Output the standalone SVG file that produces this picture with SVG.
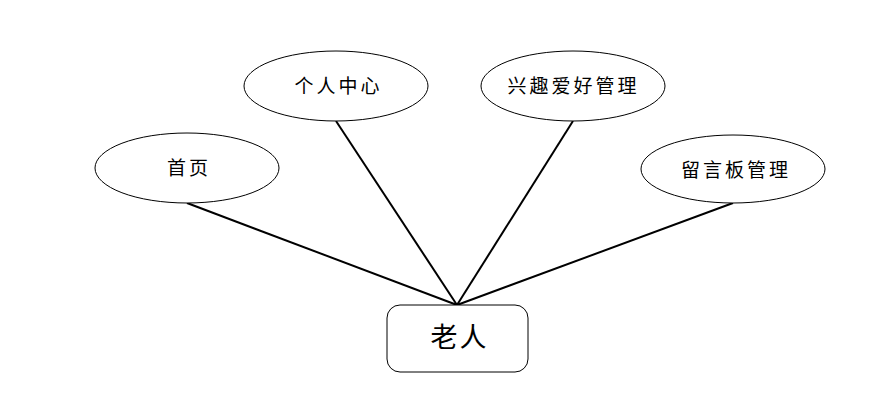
<svg xmlns="http://www.w3.org/2000/svg" width="889" height="408" viewBox="0 0 889 408">
<style>
.n{fill:#fff;stroke:#000;stroke-width:1}
.t{font-family:"Liberation Serif","Noto Sans CJK SC",serif;font-size:19px;letter-spacing:3px;fill:#000;text-anchor:middle;dominant-baseline:central}
.c{stroke:#000;stroke-width:2;fill:none}
</style>
<rect width="889" height="408" fill="#fff"/>
<g id="connectors">
<line class="c" x1="187" y1="203" x2="457" y2="305"/>
<line class="c" x1="336" y1="121" x2="457" y2="305"/>
<line class="c" x1="573" y1="121" x2="457" y2="305"/>
<line class="c" x1="733" y1="203" x2="457" y2="305"/>
</g>
<g id="shouye"><ellipse class="n" cx="187" cy="168" rx="92" ry="35"/><text class="t" x="189" y="168">首页</text></g>
<g id="gerenzhongxin"><ellipse class="n" cx="336" cy="86" rx="92" ry="35"/><text class="t" x="338.5" y="86">个人中心</text></g>
<g id="xingqu"><ellipse class="n" cx="573" cy="86" rx="92" ry="35"/><text class="t" x="573.5" y="86">兴趣爱好管理</text></g>
<g id="liuyan"><ellipse class="n" cx="733" cy="169" rx="92" ry="34"/><text class="t" x="736" y="170">留言板管理</text></g>
<g id="laoren"><rect class="n" x="387" y="305" width="141" height="67" rx="13"/><text class="t" x="459.5" y="338" style="font-size:27px;letter-spacing:2px">老人</text></g>
</svg>
